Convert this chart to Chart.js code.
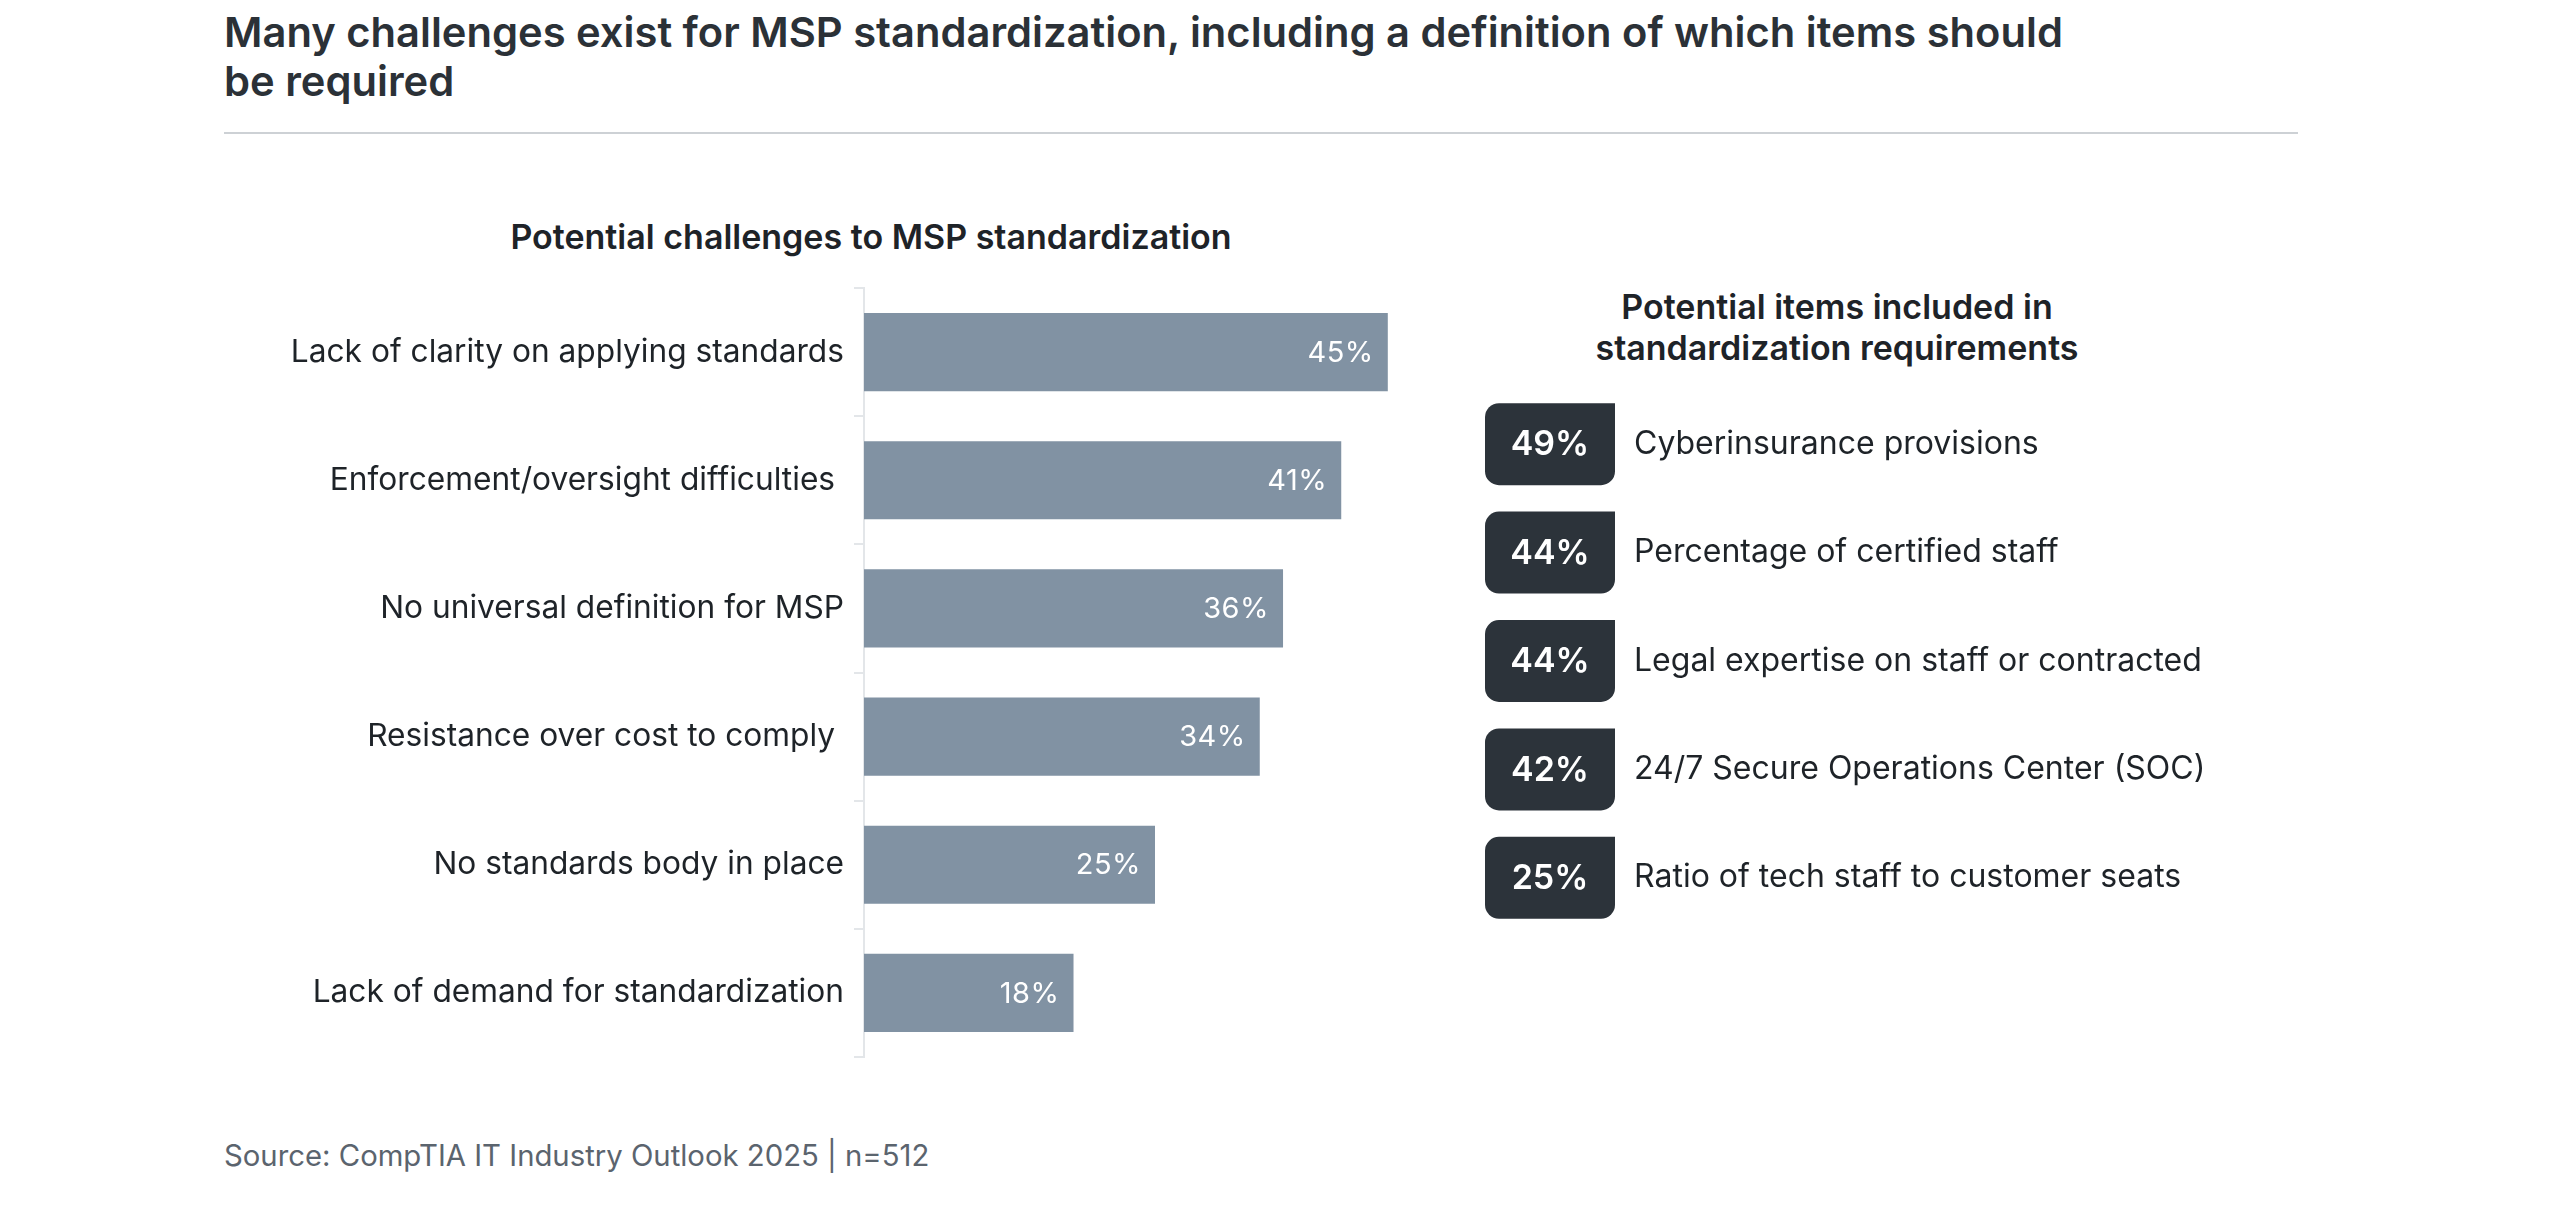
<!DOCTYPE html>
<html><head><meta charset="utf-8">
<script src="https://cdn.jsdelivr.net/npm/chart.js@4.4.1/dist/chart.umd.min.js"></script>
<style>
html,body{margin:0;padding:0;background:#fff;}
body{width:2550px;height:1211px;position:relative;overflow:hidden;font-family:Inter,"Noto Sans",sans-serif;}
.abs{position:absolute;}
#title{left:224px;top:8px;font-size:41.7px;font-weight:600;color:#2b3137;line-height:49px;white-space:nowrap;}
#rule{left:224px;top:132px;width:2074px;height:2px;background:#cdd1d5;}
#h1{left:371px;top:217px;width:1000px;text-align:center;font-size:34px;font-weight:600;color:#1e2328;line-height:40px;white-space:nowrap;}
#h2{left:1437px;top:286px;width:800px;text-align:center;font-size:34px;font-weight:600;color:#1e2328;line-height:41px;white-space:nowrap;}
#src{left:224px;top:1138px;font-size:29.3px;color:#5b646e;line-height:36px;white-space:nowrap;}
#c1{left:224px;top:280px;}
#c2{left:1480px;top:380px;}
</style></head>
<body>
<div id="title" class="abs">Many challenges exist for MSP standardization, including a definition of which items should<br>be required</div>
<div id="rule" class="abs"></div>
<div id="h1" class="abs">Potential challenges to MSP standardization</div>
<div id="h2" class="abs">Potential items included in<br>standardization requirements</div>
<div id="src" class="abs">Source: CompTIA IT Industry Outlook 2025 | n=512</div>
<canvas id="c1" class="abs" width="1222" height="785"></canvas>
<canvas id="c2" class="abs" width="835" height="552"></canvas>
<script>
// ---- data ----
const challengeLabels = [
  "Lack of clarity on applying standards",
  "Enforcement/oversight difficulties ",
  "No universal definition for MSP",
  "Resistance over cost to comply ",
  "No standards body in place",
  "Lack of demand for standardization"
];
const challengeValues = [45, 41, 36, 34, 25, 18];

const itemLabels = [
  "Cyberinsurance provisions",
  "Percentage of certified staff",
  "Legal expertise on staff or contracted",
  "24/7 Secure Operations Center (SOC)",
  "Ratio of tech staff to customer seats"
];
const itemValues = [49, 44, 44, 42, 25];
// ---- end data ----

Chart.defaults.font.family = 'Inter';
Chart.defaults.animation = false;

function fixedAxis(width) {
  return function (scale) {
    scale.width = width;
    scale.paddingTop = 0;
    scale.paddingBottom = 0;
  };
}

const barLabels = {
  id: 'barLabels',
  afterDatasetsDraw(chart) {
    const ctx = chart.ctx;
    const meta = chart.getDatasetMeta(0);
    ctx.save();
    ctx.fillStyle = '#ffffff';
    ctx.font = '400 29px Inter';
    try { ctx.letterSpacing = '0.5px'; } catch (e) {}
    ctx.textAlign = 'right';
    ctx.textBaseline = 'middle';
    meta.data.forEach((el, i) => {
      ctx.fillText(challengeValues[i] + '%', el.x - 14, el.y + 1);
    });
    ctx.restore();
  }
};

new Chart(document.getElementById('c1'), {
  type: 'bar',
  data: {
    labels: challengeLabels,
    datasets: [{
      data: challengeValues,
      backgroundColor: '#8192a3',
      borderWidth: 0,
      categoryPercentage: 1,
      barPercentage: 0.61
    }]
  },
  options: {
    indexAxis: 'y',
    responsive: false,
    layout: { padding: { top: 8, bottom: 8, left: 0, right: 0 } },
    plugins: { legend: { display: false }, tooltip: { enabled: false } },
    scales: {
      x: { display: false, min: 0, max: 50 },
      y: {
        afterFit: fixedAxis(640),
        border: { display: true, color: '#e3e6e9', width: 2 },
        grid: { drawOnChartArea: false, drawTicks: true, tickLength: 10, color: '#e3e6e9', lineWidth: 2 },
        ticks: { color: '#1e2328', padding: 10, font: { size: 31.7, family: 'Inter' } }
      }
    }
  },
  plugins: [barLabels]
});

const badgeLabels = {
  id: 'badgeLabels',
  afterDatasetsDraw(chart) {
    const ctx = chart.ctx;
    const meta = chart.getDatasetMeta(0);
    ctx.save();
    ctx.fillStyle = '#ffffff';
    ctx.font = '600 34px Inter';
    ctx.textAlign = 'center';
    ctx.textBaseline = 'middle';
    meta.data.forEach((el, i) => {
      ctx.fillText(itemValues[i] + '%', (el.x + el.base) / 2, el.y + 1);
    });
    ctx.restore();
  }
};

new Chart(document.getElementById('c2'), {
  type: 'bar',
  data: {
    labels: itemLabels,
    datasets: [{
      data: itemValues.map(() => [0, 1]),
      backgroundColor: '#2c333a',
      borderWidth: 0,
      borderSkipped: false,
      borderRadius: { topLeft: 14, topRight: 0, bottomLeft: 14, bottomRight: 14 },
      categoryPercentage: 1,
      barPercentage: 0.756
    }]
  },
  options: {
    indexAxis: 'y',
    responsive: false,
    layout: { padding: { top: 10, bottom: 0, left: 5, right: 0 } },
    plugins: { legend: { display: false }, tooltip: { enabled: false } },
    scales: {
      x: { display: false, min: 0, max: 1 },
      y: {
        position: 'right',
        afterFit: fixedAxis(700),
        border: { display: false },
        grid: { display: false, drawTicks: false },
        ticks: { crossAlign: 'near', color: '#1e2328', padding: 19, font: { size: 32, family: 'Inter' } }
      }
    }
  },
  plugins: [badgeLabels]
});
</script>
</body></html>
